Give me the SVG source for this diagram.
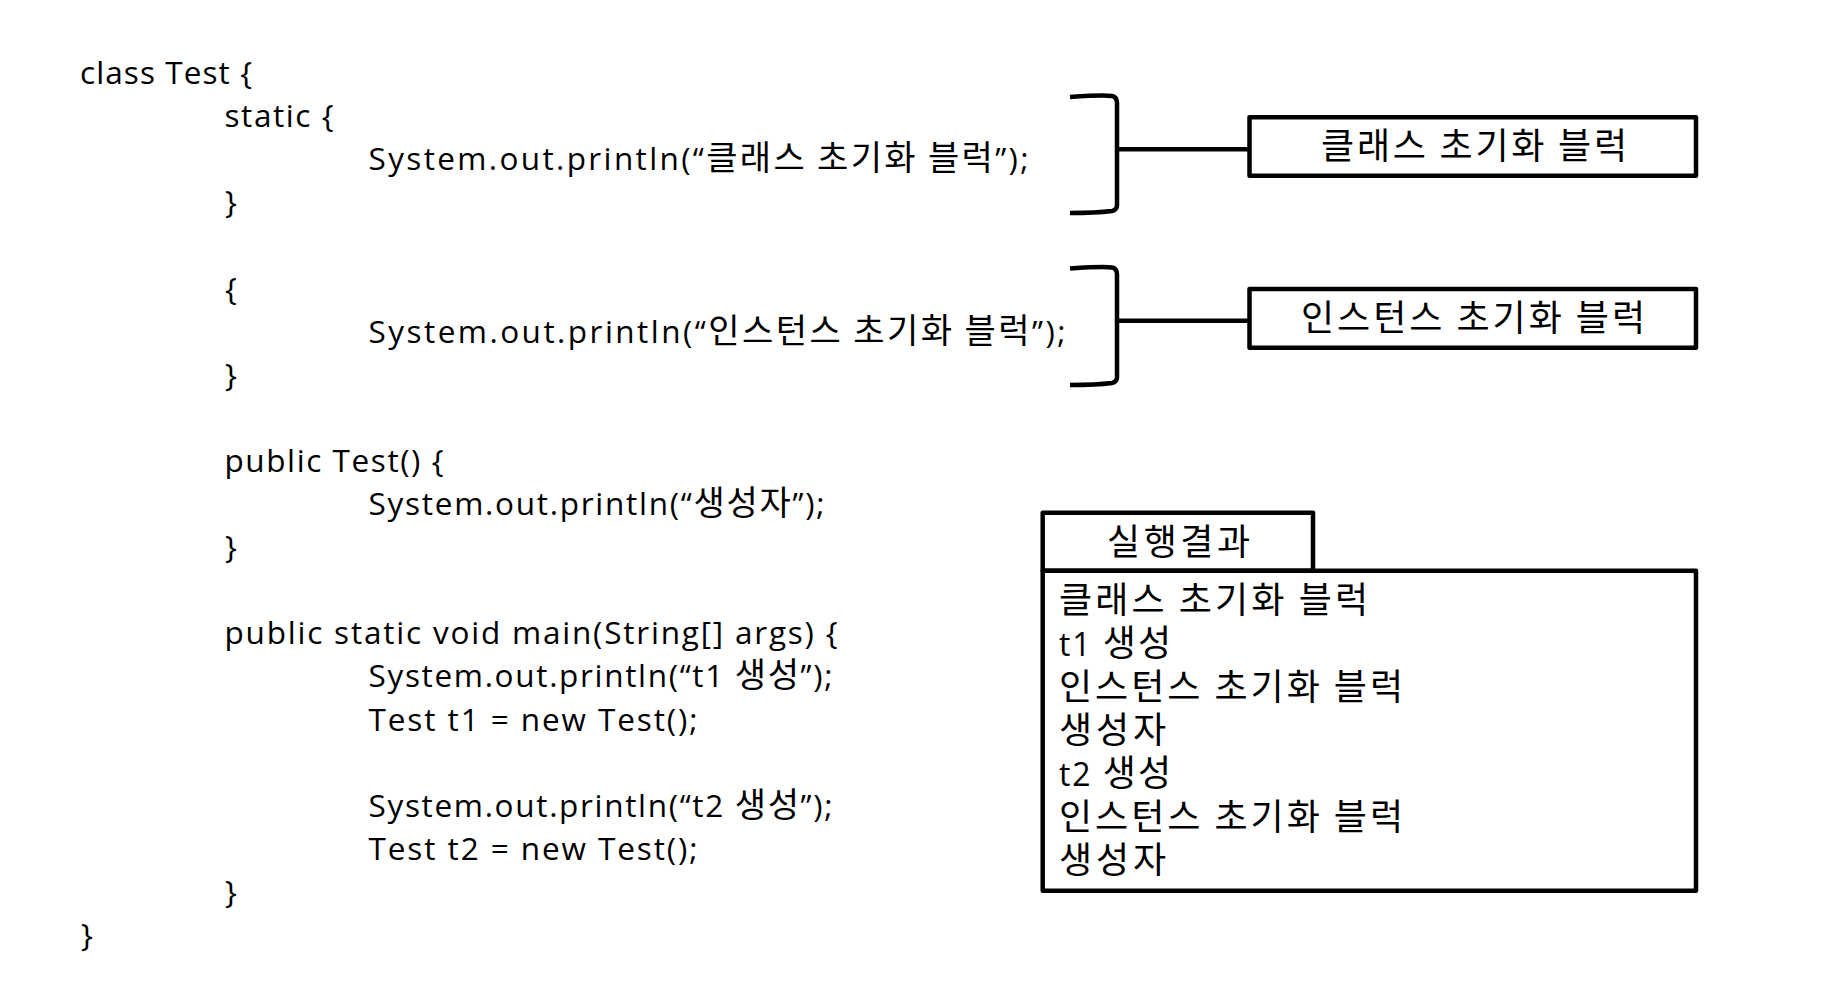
<svg xmlns="http://www.w3.org/2000/svg" width="1828" height="1006" viewBox="0 0 1828 1006">
<style>
.c { font-family: "Open Sans", "Noto Sans CJK KR", sans-serif; font-size: 31.5px; fill: #000; }
.k { font-family: "Noto Sans CJK KR", sans-serif; font-size: 34px; }
.L { font-family: "Noto Sans CJK KR", sans-serif; font-size: 36px; fill: #000; }
.lat { font-family: "Open Sans", sans-serif; font-size: 32px; }
.box { fill: #fff; stroke: #000; stroke-width: 4.5; stroke-linejoin: round; }
.ln { fill: none; stroke: #000; stroke-width: 4.5; }
</style>
<rect width="1828" height="1006" fill="#fff"/>

<g id="code">
<text class="c" x="80" y="84" textLength="172" lengthAdjust="spacing">class Test {</text>
<text class="c" x="224.5" y="127.1" textLength="109" lengthAdjust="spacing">static {</text>
<text class="c" x="368.5" y="170.2" textLength="660" lengthAdjust="spacing">System.out.println(“<tspan class="k">클래스 초기화 블럭</tspan>”);</text>
<text class="c" x="225" y="213.3">}</text>
<text class="c" x="225" y="299.5">{</text>
<text class="c" x="368.5" y="342.6" textLength="697" lengthAdjust="spacing">System.out.println(“<tspan class="k">인스턴스 초기화 블럭</tspan>”);</text>
<text class="c" x="225" y="385.7">}</text>
<text class="c" x="224.5" y="471.9" textLength="219" lengthAdjust="spacing">public Test() {</text>
<text class="c" x="368.5" y="515" textLength="456" lengthAdjust="spacing">System.out.println(“<tspan class="k">생성자</tspan>”);</text>
<text class="c" x="225" y="558.1">}</text>
<text class="c" x="224.5" y="644.3" textLength="613" lengthAdjust="spacing">public static void main(String[] args) {</text>
<text class="c" x="368.5" y="687.4" textLength="464" lengthAdjust="spacing">System.out.println(“t1 <tspan class="k">생성</tspan>”);</text>
<text class="c" x="368.5" y="730.5" textLength="329" lengthAdjust="spacing">Test t1 = new Test();</text>
<text class="c" x="368.5" y="816.7" textLength="464" lengthAdjust="spacing">System.out.println(“t2 <tspan class="k">생성</tspan>”);</text>
<text class="c" x="368.5" y="859.8" textLength="329" lengthAdjust="spacing">Test t2 = new Test();</text>
<text class="c" x="225" y="902.9">}</text>
<text class="c" x="81" y="946">}</text>
</g>

<g id="connectors">
<path class="ln" d="M1070,97 C1092,95.5 1106,95 1112,96 Q1117,97 1117,103 L1117,205 Q1117,210 1112,211 C1100,212.5 1085,213 1070,213"/>
<line class="ln" x1="1117" y1="149.3" x2="1249.5" y2="149.3"/>
<path class="ln" d="M1070,268.5 C1092,267 1106,266.5 1112,267.5 Q1117,268.5 1117,274.5 L1117,377 Q1117,382 1112,383 C1100,384.5 1085,385 1070,385"/>
<line class="ln" x1="1117" y1="320.7" x2="1249.5" y2="320.7"/>
</g>

<g id="class-init-block">
<rect class="box" x="1249.5" y="117.3" width="446.5" height="58.4"/>
<text class="L" x="1321" y="159" textLength="306" lengthAdjust="spacing">클래스 초기화 블럭</text>
</g>

<g id="instance-init-block">
<rect class="box" x="1249.5" y="289" width="446.5" height="58.7"/>
<text class="L" x="1301" y="331" textLength="344" lengthAdjust="spacing">인스턴스 초기화 블럭</text>
</g>

<g id="result">
<rect class="box" x="1042.7" y="512.7" width="270.3" height="58"/>
<rect class="box" x="1042.7" y="570.7" width="653.3" height="320"/>
<text class="L" x="1107" y="555" textLength="143" lengthAdjust="spacing">실행결과</text>
<text class="L" x="1059" y="613" textLength="309" lengthAdjust="spacing">클래스 초기화 블럭</text>
<text class="L" x="1059" y="656.3" textLength="112" lengthAdjust="spacing"><tspan class="lat">t1 </tspan>생성</text>
<text class="L" x="1059" y="699.6" textLength="344" lengthAdjust="spacing">인스턴스 초기화 블럭</text>
<text class="L" x="1059" y="742.9" textLength="107" lengthAdjust="spacing">생성자</text>
<text class="L" x="1059" y="786.2" textLength="112" lengthAdjust="spacing"><tspan class="lat">t2 </tspan>생성</text>
<text class="L" x="1059" y="829.5" textLength="344" lengthAdjust="spacing">인스턴스 초기화 블럭</text>
<text class="L" x="1059" y="872.8" textLength="107" lengthAdjust="spacing">생성자</text>
</g>
</svg>
